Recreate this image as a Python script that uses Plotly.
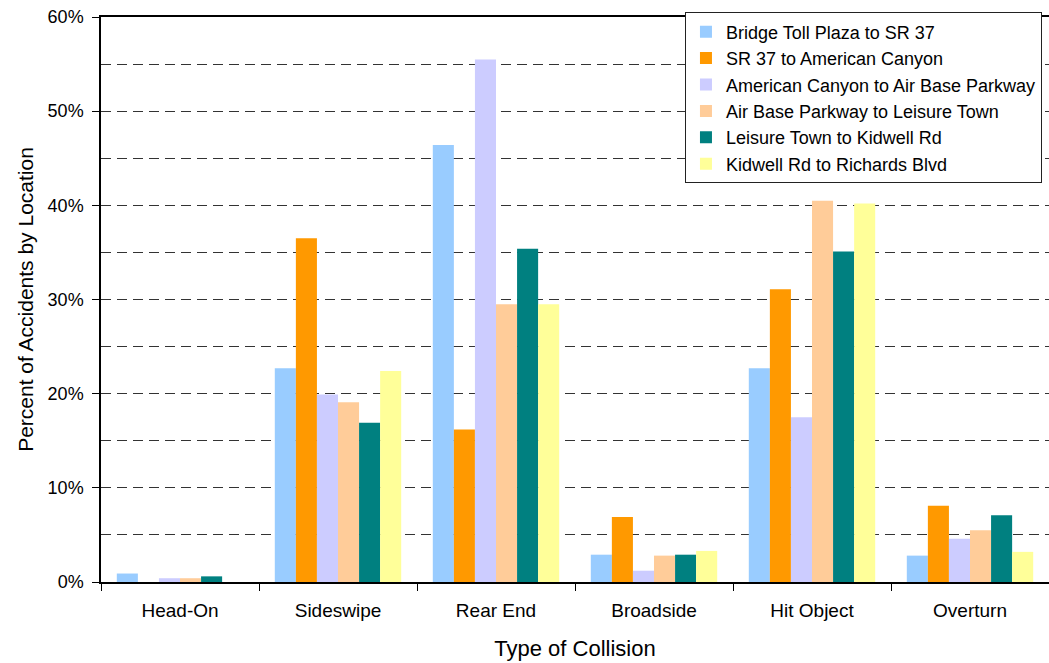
import plotly.graph_objects as go

# Collision types (x categories)
collision_types = ["Head-On", "Sideswipe", "Rear End", "Broadside", "Hit Object", "Overturn"]

# Percent of accidents by location segment
bridge_toll_to_sr37 = [0.9, 22.7, 46.4, 2.9, 22.7, 2.8]
sr37_to_american_canyon = [0.0, 36.5, 16.2, 6.9, 31.1, 8.1]
american_canyon_to_air_base = [0.4, 19.9, 55.5, 1.2, 17.5, 4.6]
air_base_to_leisure_town = [0.4, 19.1, 29.5, 2.8, 40.5, 5.5]
leisure_town_to_kidwell = [0.6, 16.9, 35.4, 2.9, 35.1, 7.1]
kidwell_to_richards = [0.0, 22.4, 29.5, 3.3, 40.2, 3.2]

series_names = [
    "Bridge Toll Plaza to SR 37",
    "SR 37 to American Canyon",
    "American Canyon to Air Base Parkway",
    "Air Base Parkway to Leisure Town",
    "Leisure Town to Kidwell Rd",
    "Kidwell Rd to Richards Blvd",
]
series_values = [
    bridge_toll_to_sr37,
    sr37_to_american_canyon,
    american_canyon_to_air_base,
    air_base_to_leisure_town,
    leisure_town_to_kidwell,
    kidwell_to_richards,
]
series_colors = ["#99CCFF", "#FF9900", "#CCCCFF", "#FFCC99", "#008080", "#FFFF99"]

font_family = "Liberation Sans, Arial, sans-serif"
grid_dash = "10px,6px"

fig = go.Figure()
for name, vals, color in zip(series_names, series_values, series_colors):
    fig.add_trace(go.Bar(
        x=collision_types,
        y=vals,
        name=name,
        marker=dict(color=color, line=dict(width=0)),
    ))

fig.update_layout(
    width=1049,
    height=663,
    margin=dict(l=101, r=0, t=17, b=81),
    paper_bgcolor="white",
    plot_bgcolor="white",
    barmode="group",
    bargap=0.2,
    bargroupgap=0,
    font=dict(family=font_family, color="black"),
    legend=dict(
        x=0.616,
        y=1.008,
        xanchor="left",
        yanchor="top",
        bgcolor="white",
        bordercolor="#222222",
        borderwidth=1,
        font=dict(size=18, family=font_family),
        itemwidth=30,
        tracegroupgap=0,
    ),
    showlegend=True,
)

fig.update_xaxes(
    title=dict(text="Type of Collision", font=dict(size=22), standoff=21),
    tickfont=dict(size=19),
    ticklabelstandoff=10,
    showline=True,
    linecolor="black",
    linewidth=1.5,
    mirror=True,
    ticks="outside",
    tickson="boundaries",
    ticklen=7,
    tickcolor="black",
    showgrid=False,
    automargin=False,
)

fig.update_yaxes(
    title=dict(text="Percent of Accidents by Location", font=dict(size=21), standoff=8),
    range=[0, 60],
    dtick=10,
    ticksuffix="%",
    tickfont=dict(size=18),
    ticklabelstandoff=5,
    showline=True,
    linecolor="black",
    linewidth=1.5,
    mirror=False,
    ticks="outside",
    ticklen=7,
    tickcolor="black",
    showgrid=True,
    gridcolor="#333333",
    griddash=grid_dash,
    gridwidth=1,
    zeroline=False,
    automargin=False,
    minor=dict(dtick=5, showgrid=True, gridcolor="#333333", griddash=grid_dash, gridwidth=1, ticks=""),
)

fig.write_html("out.html")
